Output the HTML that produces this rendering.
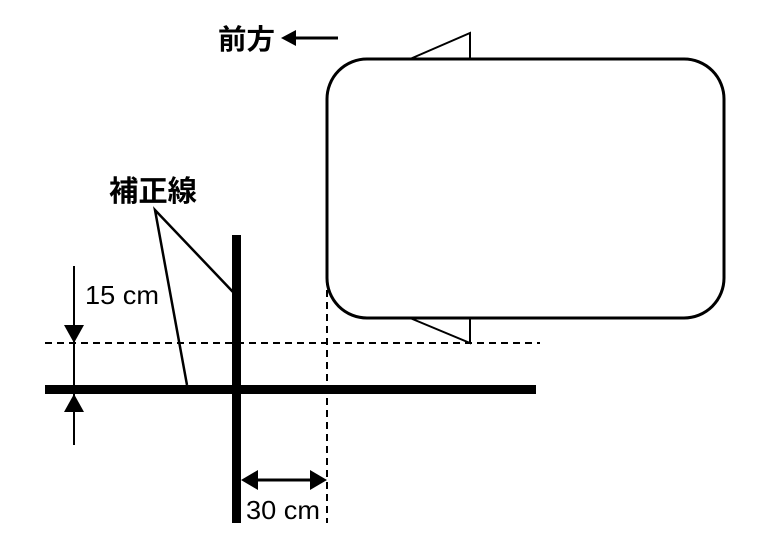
<!DOCTYPE html>
<html><head><meta charset="utf-8"><style>html,body{margin:0;padding:0;background:#fff}</style></head>
<body>
<svg width="768" height="544" viewBox="0 0 768 544" xmlns="http://www.w3.org/2000/svg">
<g font-family="'Liberation Sans','Noto Sans CJK JP',sans-serif" fill="#000">
<text x="218" y="49" font-size="28" font-weight="bold" textLength="57" lengthAdjust="spacingAndGlyphs">前方</text>
<text x="109" y="201" font-size="29" font-weight="bold" textLength="88" lengthAdjust="spacingAndGlyphs">補正線</text>
<text x="85" y="304" font-size="26" textLength="74" lengthAdjust="spacingAndGlyphs">15 cm</text>
<text x="246" y="519" font-size="26" textLength="74" lengthAdjust="spacingAndGlyphs">30 cm</text>
</g>
<line x1="295" y1="38" x2="338" y2="38" stroke="#000" stroke-width="3"/>
<polygon points="281,38 296,30 296,46" fill="#000"/>
<polygon points="410,59 470,33 470,59" fill="#fff" stroke="#000" stroke-width="2"/>
<polygon points="410,318 470,343 470,318" fill="#fff" stroke="#000" stroke-width="2"/>
<rect x="327" y="59" width="397" height="259" rx="40" fill="#fff" stroke="#000" stroke-width="3"/>
<line x1="45" y1="343" x2="540" y2="343" stroke="#000" stroke-width="2" stroke-dasharray="7,5"/>
<line x1="327" y1="230" x2="327" y2="523" stroke="#000" stroke-width="2" stroke-dasharray="7,5"/>
<line x1="45" y1="389.5" x2="536" y2="389.5" stroke="#000" stroke-width="9"/>
<line x1="236.5" y1="235" x2="236.5" y2="523" stroke="#000" stroke-width="9"/>
<polyline points="233,292 155,210 187,385" fill="none" stroke="#000" stroke-width="2.5"/>
<line x1="74" y1="266" x2="74" y2="445" stroke="#000" stroke-width="2"/>
<polygon points="74,343 64,325 84,325" fill="#000"/>
<polygon points="74,394 64,412 84,412" fill="#000"/>
<line x1="250" y1="480" x2="318" y2="480" stroke="#000" stroke-width="3"/>
<polygon points="241,480 258,470 258,490" fill="#000"/>
<polygon points="327,480 310,470 310,490" fill="#000"/>
</svg>
</body></html>
